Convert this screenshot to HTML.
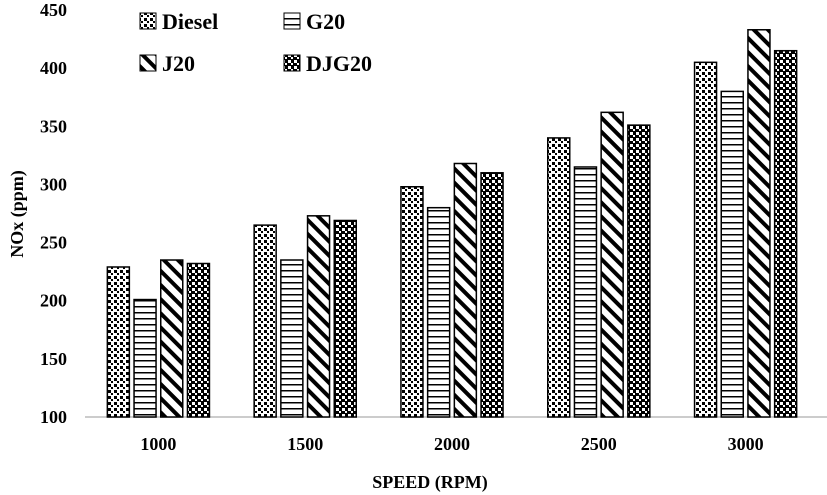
<!DOCTYPE html>
<html><head><meta charset="utf-8"><style>
body{margin:0;background:#fff;}
svg{display:block;font-family:"Liberation Serif",serif;font-weight:bold;}
</style></head><body>
<svg width="827" height="495">
<defs>
<pattern id="pDiesel" width="6" height="6" patternUnits="userSpaceOnUse"><rect width="6" height="6" fill="#fff"/><rect x="0" y="0" width="3" height="3" fill="#000"/><rect x="3" y="3" width="2" height="2" fill="#000"/></pattern>
<pattern id="pG20" width="6" height="6" patternUnits="userSpaceOnUse"><rect width="6" height="6" fill="#fff"/><rect y="0" width="6" height="1.5" fill="#000"/></pattern>
<pattern id="pJ20" width="10" height="10" patternUnits="userSpaceOnUse" patternTransform="rotate(-45)"><rect width="10" height="10" fill="#fff"/><rect x="0" width="4" height="10" fill="#000"/></pattern>
<pattern id="pDJG" width="6" height="6" patternUnits="userSpaceOnUse"><rect width="6" height="6" fill="#000"/><rect x="0" y="0" width="3" height="3" fill="#fff"/><rect x="3" y="3" width="2" height="2" fill="#fff"/></pattern>
</defs>
<g id="grid"></g>
<g id="bars"></g>
<g id="labels"></g>
<text x="430" y="488" text-anchor="middle" font-size="18">SPEED (RPM)</text>
<text transform="translate(23,214) rotate(-90)" text-anchor="middle" font-size="18">NOx (ppm)</text>
<g id="legend"></g>
</svg>
<script>
const categories=["1000","1500","2000","2500","3000"];
const seriesNames=["Diesel","G20","J20","DJG20"];
const diesel=[229,265,298,340,405];
const g20=[201,235,280,315,380];
const j20=[235,273,318,362,433];
const djg20=[232,269,310,351,415];
const yTicks=[100,150,200,250,300,350,400,450];
const fills=["url(#pDiesel)","url(#pG20)","url(#pJ20)","url(#pDJG)"];
const series=[diesel,g20,j20,djg20];
const NS="http://www.w3.org/2000/svg";
const x0=85,x1=819,yBase=417,yTop=10,vMin=100,vMax=450;
const y=v=>yBase-(v-vMin)*(yBase-yTop)/(vMax-vMin);
const gw=(x1-x0)/categories.length;
const bw=22,step=26.7;
const xc=i=>x0+gw*(i+0.5);
function mk(tag,attrs,parent){const e=document.createElementNS(NS,tag);for(const k in attrs)e.setAttribute(k,attrs[k]);parent.appendChild(e);return e;}
const grid=document.getElementById('grid'),bars=document.getElementById('bars'),labels=document.getElementById('labels'),legend=document.getElementById('legend');
const axis=mk('line',{x1:x0,x2:827,y1:yBase,y2:yBase,stroke:'#bbb','stroke-width':1.5},grid);


yTicks.forEach(t=>{const tx=mk('text',{x:67,y:y(t)+6,'text-anchor':'end','font-size':18},labels);tx.textContent=t;

});
categories.forEach((c,i)=>{const tx=mk('text',{x:xc(i),y:450,'text-anchor':'middle','font-size':18},labels);tx.textContent=c;


series.forEach((s,j)=>{const bx=xc(i)+(j-1.5)*step-bw/2;const r=mk('rect',{x:bx,y:y(s[i]),width:bw,height:yBase-y(s[i]),fill:fills[j],stroke:'#000','stroke-width':1.5},bars);

});});
const lp=[[140,29],[284,29],[140,71],[284,71]];
seriesNames.forEach((n,j)=>{const g=mk('g',{},legend);


mk('rect',{x:lp[j][0],y:lp[j][1]-16,width:16,height:16,fill:fills[j],stroke:'#000','stroke-width':1},g);
const t=mk('text',{x:lp[j][0]+22,y:lp[j][1],'font-size':22},g);t.textContent=n;});
</script>
</body></html>
